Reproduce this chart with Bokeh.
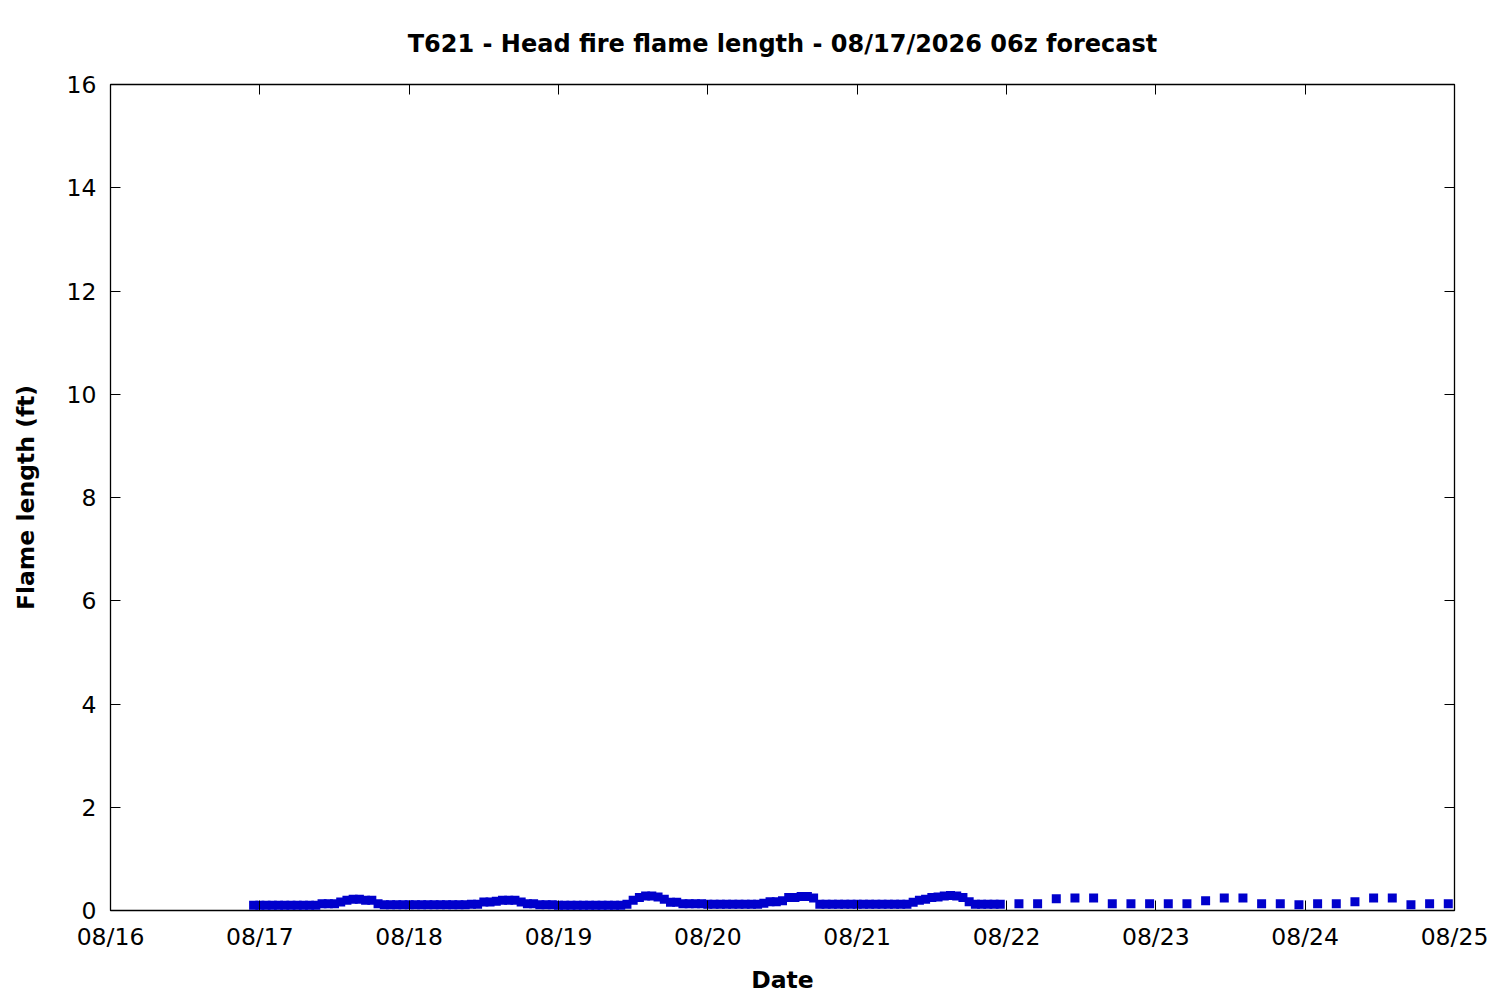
from datetime import datetime
import pandas as pd
from bokeh.plotting import figure
from bokeh.models import (ColumnDataSource, Range1d, FixedTicker, DatetimeTickFormatter,
                          LinearAxis, DatetimeAxis, CustomJSTickFormatter)
from bokeh.embed import file_html
from bokeh.resources import INLINE

# ---------------- data ----------------
title_text = "T621 - Head fire flame length - 08/17/2026 06z forecast"
x_label = "Date"
y_label = "Flame length (ft)"

hourly_start = "2026-08-16 23:00"
hourly_values = [
    0.10,  # 08/16 23
    # 08/17
    0.10, 0.10, 0.10, 0.10, 0.10, 0.10, 0.10, 0.10, 0.10, 0.10,
    0.13, 0.13, 0.13, 0.165, 0.20, 0.22, 0.22, 0.20, 0.20, 0.13,
    0.11, 0.11, 0.11, 0.11,
    # 08/18
    0.11, 0.11, 0.11, 0.11, 0.11, 0.11, 0.11, 0.11, 0.11, 0.11,
    0.12, 0.12, 0.165, 0.165, 0.18, 0.20, 0.20, 0.20, 0.165, 0.13,
    0.13, 0.11, 0.11, 0.11,
    # 08/19
    0.10, 0.10, 0.10, 0.10, 0.10, 0.10, 0.10, 0.10, 0.10, 0.10,
    0.10, 0.12, 0.20, 0.25, 0.28, 0.28, 0.26, 0.22, 0.16, 0.16,
    0.13, 0.13, 0.13, 0.13,
    # 08/20
    0.12, 0.12, 0.12, 0.12, 0.12, 0.12, 0.12, 0.12, 0.12, 0.14,
    0.17, 0.17, 0.19, 0.25, 0.25, 0.27, 0.27, 0.24, 0.12, 0.12,
    0.12, 0.12, 0.12, 0.12,
    # 08/21
    0.12, 0.12, 0.12, 0.12, 0.12, 0.12, 0.12, 0.12, 0.12, 0.16,
    0.20, 0.22, 0.25, 0.26, 0.28, 0.29, 0.28, 0.25, 0.17, 0.12,
    0.12, 0.12, 0.12, 0.12,
]

three_hourly_start = "2026-08-22 02:00"
three_hourly_values = [
    0.13, 0.13, 0.23, 0.24, 0.24, 0.13, 0.13, 0.13,
    0.13, 0.13, 0.19, 0.24, 0.24, 0.13, 0.13, 0.11,
    0.13, 0.13, 0.17, 0.24, 0.24, 0.11, 0.13, 0.13,
]

x_tick_dates = ["2026-08-16", "2026-08-17", "2026-08-18", "2026-08-19", "2026-08-20",
                "2026-08-21", "2026-08-22", "2026-08-23", "2026-08-24", "2026-08-25"]
y_ticks = [0, 2, 4, 6, 8, 10, 12, 14, 16]

# ---------------- build ----------------
hourly_times = pd.date_range(hourly_start, periods=len(hourly_values), freq="h")
three_hourly_times = pd.date_range(three_hourly_start, periods=len(three_hourly_values), freq="3h")

src1 = ColumnDataSource(dict(t=hourly_times, v=hourly_values))
src2 = ColumnDataSource(dict(t=three_hourly_times, v=three_hourly_values))

tick_ms = [pd.Timestamp(d).value / 1e6 for d in x_tick_dates]

FONT = "DejaVu Sans"
FS = "23.5px"

p = figure(width=1490, height=996, output_backend="svg", toolbar_location=None,
           x_axis_type=None, y_axis_type=None,
           x_range=Range1d(pd.Timestamp(x_tick_dates[0]), pd.Timestamp(x_tick_dates[-1])),
           y_range=Range1d(y_ticks[0], y_ticks[-1]),
           min_border_left=110, min_border_right=36, min_border_top=84, min_border_bottom=86)

p.title.text = title_text
p.title.align = "center"
p.title.text_font = FONT
p.title.text_font_size = "24px"
p.title.text_font_style = "bold"
p.title.text_color = "black"
p.title.standoff = 54

p.xgrid.visible = False
p.ygrid.visible = False
p.outline_line_color = "black"
p.outline_line_width = 1.3
p.background_fill_color = "white"
p.border_fill_color = "white"

xt = FixedTicker(ticks=tick_ms)
yt = FixedTicker(ticks=y_ticks)
fmt = DatetimeTickFormatter(days="%m/%d", months="%m/%d", hours="%m/%d", years="%m/%d")
blank = CustomJSTickFormatter(code="return ''")

def style(ax):
    ax.axis_line_color = None
    ax.major_tick_in = 10
    ax.major_tick_out = 0
    ax.major_tick_line_color = "black"
    ax.major_tick_line_width = 1
    ax.minor_tick_line_color = None
    ax.major_label_text_font = FONT
    ax.major_label_text_font_size = FS
    ax.major_label_text_color = "black"
    ax.axis_label_text_font = FONT
    ax.axis_label_text_font_size = FS
    ax.axis_label_text_font_style = "bold"
    ax.axis_label_text_color = "black"

xb = DatetimeAxis(ticker=xt, formatter=fmt, axis_label=x_label)
style(xb)
xb.major_label_standoff = 12
xb.axis_label_standoff = 12
p.add_layout(xb, "below")

xa = DatetimeAxis(ticker=xt, formatter=blank)
style(xa)
xa.major_label_standoff = 0
p.add_layout(xa, "above")

yl = LinearAxis(ticker=yt, axis_label=y_label)
style(yl)
yl.major_label_standoff = 14
yl.axis_label_standoff = 24
p.add_layout(yl, "left")

yr = LinearAxis(ticker=yt, formatter=blank)
style(yr)
yr.major_label_standoff = 0
p.add_layout(yr, "right")

p.scatter("t", "v", source=src1, marker="square", size=9, color="#0000cc", line_width=0)
p.scatter("t", "v", source=src2, marker="square", size=9, color="#0000cc", line_width=0)

open("out.html", "w").write(file_html(p, INLINE))
